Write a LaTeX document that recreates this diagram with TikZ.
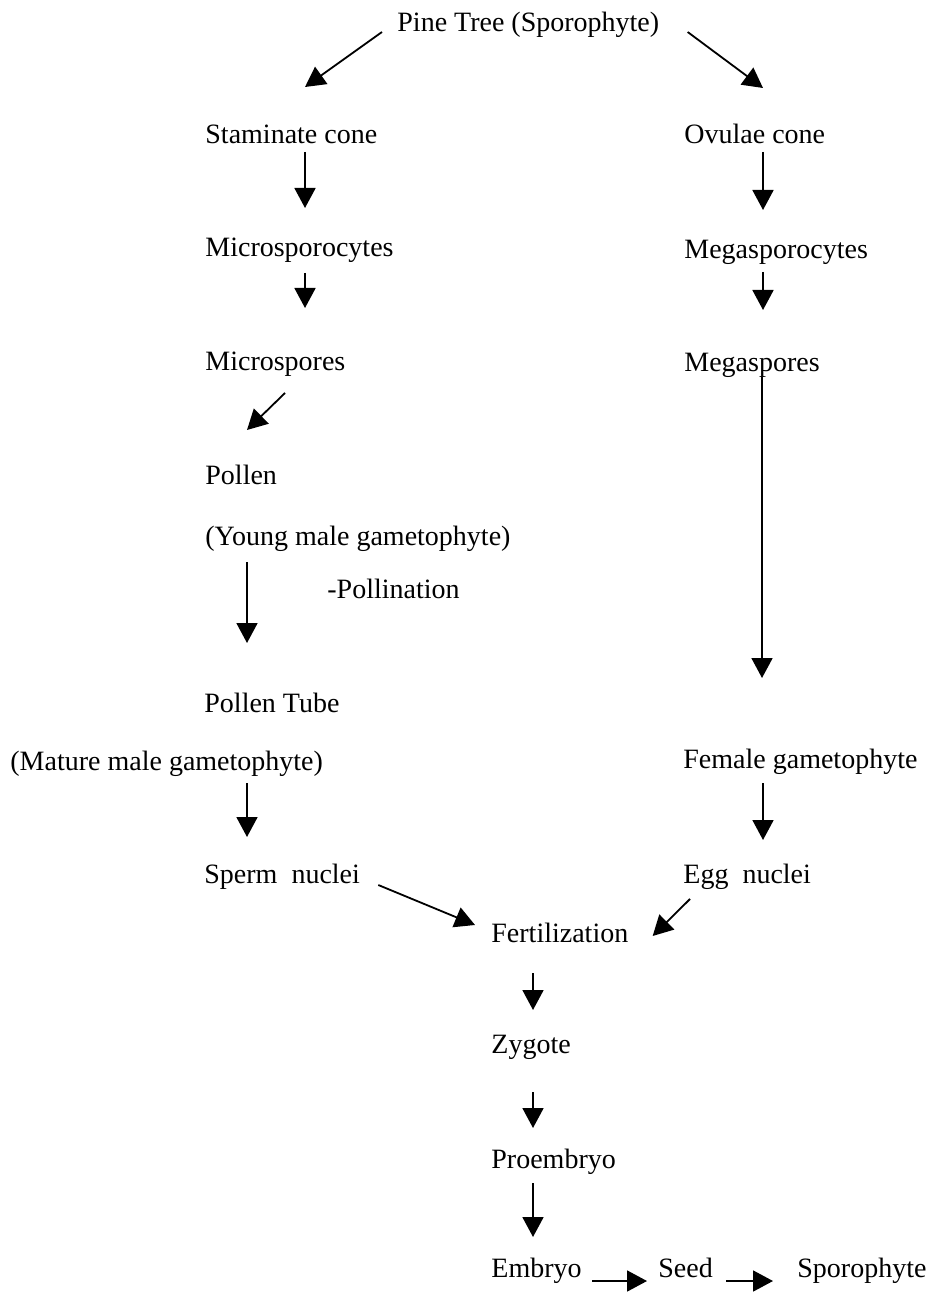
\documentclass[tikz,border=0pt]{standalone}
\usepackage{fontspec}
\setmainfont{Liberation Serif}
\usetikzlibrary{arrows.meta}

\begin{document}
\begin{tikzpicture}[x=0.5pt,y=-0.5pt,
  lbl/.style={anchor=base west,inner sep=0pt,font=\fontsize{14}{17}\selectfont},
  arr/.style={-{Triangle[length=10pt,width=10.5pt]},line width=0.9pt}]
\useasboundingbox (0,0) rectangle (927,1293);

\node[lbl] (pine) at (397,32) {Pine Tree (Sporophyte)};
\node[lbl] (stam) at (205,144) {Staminate cone};
\node[lbl] (ovul) at (684,144) {Ovulae cone};
\node[lbl] (micro) at (205,257) {Microsporocytes};
\node[lbl] (mega) at (684,259) {Megasporocytes};
\node[lbl] (mspores) at (205,371) {Microspores};
\node[lbl] (megspores) at (684,372) {Megaspores};
\node[lbl] (pollen) at (205,485) {Pollen};
\node[lbl] (young) at (205,545) {(Young male gametophyte)};
\node[lbl] (polli) at (327,598) {-Pollination};
\node[lbl] (tube) at (204,712) {Pollen Tube};
\node[lbl] (mature) at (10,770) {(Mature male gametophyte)};
\node[lbl] (female) at (683,768) {Female gametophyte};
\node[lbl] (sperm) at (204,883) {Sperm~~nuclei};
\node[lbl] (egg) at (683,883) {Egg~~nuclei};
\node[lbl] (fert) at (491,942) {Fertilization};
\node[lbl] (zyg) at (491,1053) {Zygote};
\node[lbl] (proemb) at (491,1168) {Proembryo};
\node[lbl] (emb) at (491,1277) {Embryo};
\node[lbl] (seed) at (658,1277) {Seed};
\node[lbl] (sporo) at (797,1277) {Sporophyte};

\draw[arr] ([shift={(-15,0)}]pine.base west) -- ([shift={(100,-57)}]stam.base west);
\draw[arr] ([shift={(28,0)}]pine.base east) -- ([shift={(79,-56)}]ovul.base west);

\draw[arr] ([shift={(100,8)}]stam.base west) -- ([shift={(100,-49)}]micro.base west);
\draw[arr] ([shift={(100,16)}]micro.base west) -- ([shift={(100,-63)}]mspores.base west);
\draw[arr] ([shift={(80,22)}]mspores.base west) -- ([shift={(42,-55)}]pollen.base west);
\draw[arr] ([shift={(42,17)}]young.base west) -- ([shift={(43,-69)}]tube.base west);
\draw[arr] ([shift={(237,13)}]mature.base west) -- ([shift={(43,-46)}]sperm.base west);

\draw[arr] ([shift={(79,8)}]ovul.base west) -- ([shift={(79,-49)}]mega.base west);
\draw[arr] ([shift={(79,13)}]mega.base west) -- ([shift={(79,-62)}]megspores.base west);
\draw[arr] ([shift={(78,5)}]megspores.base west) -- ([shift={(79,-90)}]female.base west);
\draw[arr] ([shift={(80,15)}]female.base west) -- ([shift={(80,-43)}]egg.base west);

\draw[arr] ([shift={(18,2)}]sperm.base east) -- ([shift={(-16,-17)}]fert.base west);
\draw[arr] ([shift={(7,16)}]egg.base west) -- ([shift={(24,-6)}]fert.base east);

\draw[arr] ([shift={(42,31)}]fert.base west) -- ([shift={(42,-43)}]zyg.base west);
\draw[arr] ([shift={(42,39)}]zyg.base west) -- ([shift={(42,-40)}]proemb.base west);
\draw[arr] ([shift={(42,15)}]proemb.base west) -- ([shift={(42,-40)}]emb.base west);

\draw[arr] ([shift={(10,4)}]emb.base east) -- ([shift={(-11,4)}]seed.base west);
\draw[arr] ([shift={(13,4)}]seed.base east) -- ([shift={(-24,4)}]sporo.base west);
\end{tikzpicture}
\end{document}
